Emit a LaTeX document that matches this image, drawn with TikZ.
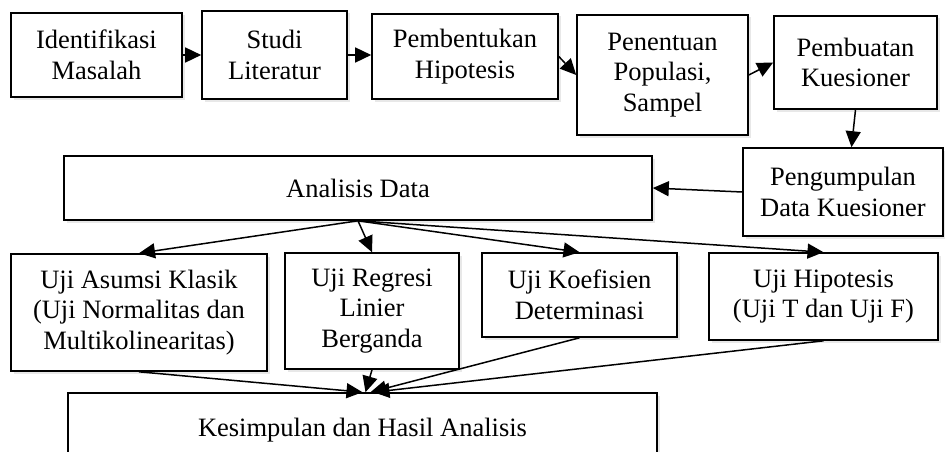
\documentclass[tikz,border=0pt]{standalone}
\usepackage{fontspec}
\setmainfont{Liberation Serif}
\usetikzlibrary{arrows.meta,shadows}
\begin{document}
\begin{tikzpicture}[x=1pt,y=-1pt,
  box/.style={draw=black,line width=1.6pt,fill=white,align=center,inner sep=0pt,
    font=\fontsize{26.5}{30.5}\selectfont,
    drop shadow={opacity=0.18,shadow xshift=2.5pt,shadow yshift=-2.5pt}},
  arr/.style={line width=1.5pt,-{Triangle[length=16pt,width=15pt]}}]
\clip (0,0) rectangle (945,452);
\fill[white] (0,0) rectangle (945,452);
\node[box,minimum width=171pt,minimum height=84pt] (iden) at (96.5,55) {Identifikasi\\Masalah};
\node[box,minimum width=145pt,minimum height=88pt] (studi) at (274.5,55) {Studi\\Literatur};
\node[box,minimum width=186pt,minimum height=85pt] (pemb) at (465,56.5) {Pembentukan\\Hipotesis};
\node[box,minimum width=171pt,minimum height=120pt] (pene) at (662.5,75) {Penentuan\\Populasi,\\Sampel};
\node[box,minimum width=163pt,minimum height=93pt] (kues) at (855.5,62.5) {Pembuatan\\Kuesioner};
\node[box,minimum width=200pt,minimum height=88pt] (peng) at (843,192) {Pengumpulan\\Data Kuesioner};
\node[box,minimum width=588pt,minimum height=64pt] (anal) at (358,188) {Analisis Data};
\node[box,minimum width=256pt,minimum height=117pt] (asum) at (139,312.5) {Uji Asumsi Klasik\\(Uji Normalitas dan\\Multikolinearitas)};
\node[box,minimum width=174pt,minimum height=116pt] (regr) at (372,311) {Uji Regresi\\Linier\\Berganda};
\node[box,minimum width=195pt,minimum height=84pt] (koef) at (579.5,295) {Uji Koefisien\\Determinasi};
\node[box,minimum width=229pt,minimum height=87pt] (hipo) at (823.5,296.5) {Uji Hipotesis\\(Uji T dan Uji F)};
\node[box,minimum width=589pt,minimum height=74pt] (kesi) at (362.5,430) {Kesimpulan dan Hasil Analisis};
\draw[arr] (iden.east) -- (studi.west);
\draw[arr] (studi.east) -- (studi.east -| pemb.west);
\draw[arr] (pemb.east) -- (pene.west);
\draw[arr] (pene.east) -- (kues.west);
\draw[arr] (kues.south) -- ([xshift=8.5pt]peng.north);
\draw[arr] (peng.west) -- (anal.east);
\draw[arr] (anal.south) -- (asum.north);
\draw[arr] (anal.south) -- (regr.north);
\draw[arr] (anal.south) -- (koef.north);
\draw[arr] (anal.south) -- (hipo.north);
\draw[arr] (asum.south) -- ([xshift=0pt]kesi.north);
\draw[arr] (regr.south) -- ([xshift=3pt]kesi.north);
\draw[arr] (koef.south) -- ([xshift=8pt]kesi.north);
\draw[arr] (hipo.south) -- ([xshift=11pt]kesi.north);
\end{tikzpicture}
\end{document}
